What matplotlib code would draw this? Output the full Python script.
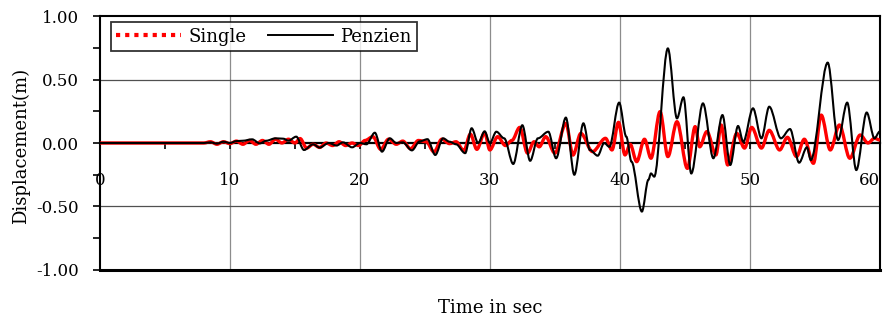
import numpy as np
import matplotlib
matplotlib.use("Agg")
import matplotlib.pyplot as plt
from matplotlib.path import Path
from matplotlib.patches import PathPatch
from matplotlib.lines import Line2D

plt.rcParams['font.family'] = ['DejaVu Serif']
plt.rcParams['axes.unicode_minus'] = False

# turning points of the displacement records (time s, displacement m)
t_single = [0, 8, 8.5, 9, 9.5, 10, 10.5, 11, 11.5, 12, 12.5, 13, 13.5, 14, 14.5, 15,
            15.4, 15.9, 16.4, 16.9, 17.4, 17.9, 18.4, 18.9, 19.4, 19.9, 20.4, 21.0,
            21.6, 22.2, 22.8, 23.3, 23.9, 24.5, 25.1, 25.7, 26.3, 26.9, 27.4, 28.0,
            28.5, 29.0, 29.6, 30.0, 30.6, 31.2, 31.7, 32.3, 32.9, 33.4, 33.8, 34.3,
            35.0, 35.85, 36.4, 37.0, 37.9, 38.9, 39.4, 39.9, 40.4, 40.8, 41.3, 41.9,
            42.4, 43.1, 43.7, 44.4, 45.2, 45.8, 46.15, 46.7, 47.4, 47.8, 48.3, 49.0,
            49.6, 50.15, 50.9, 51.5, 52.3, 52.9, 53.6, 54.2, 54.9, 55.5, 56.2, 56.9,
            57.7, 58.5, 59.1, 59.6, 60]
d_single = [0, 0, 0.01, -0.01, 0.01, -0.005, 0.015, -0.01, 0.02, -0.01, 0.02, -0.01,
            0.03, 0.0, 0.03, 0.0, 0.035, -0.04, -0.01, -0.035, 0.0, -0.02, 0.01, -0.02,
            0.0, -0.02, 0.02, 0.05, -0.05, 0.03, -0.01, 0.015, -0.045, 0.02, 0.01,
            -0.07, 0.03, -0.005, 0.01, -0.06, 0.07, -0.05, 0.08, -0.055, 0.05, -0.02,
            0.02, 0.123, -0.08, 0.01, -0.03, 0.05, -0.08, 0.155, -0.095, 0.076, -0.068,
            0.037, -0.055, 0.163, -0.094, -0.01, -0.147, 0.03, -0.12, 0.247, -0.107,
            0.168, -0.2, 0.129, -0.03, 0.09, -0.094, 0.142, -0.173, 0.076, -0.04,
            0.123, -0.04, 0.1, -0.055, 0.045, -0.107, 0.03, -0.16, 0.22, -0.055,
            0.142, -0.12, 0.063, 0.0, 0.037, 0.024]

t_penzien = [0, 8, 8.5, 9, 9.5, 10, 10.5, 11.0, 11.7, 12.3, 12.8, 13.5, 14.1, 14.5,
             15.1, 15.7, 16.4, 16.9, 17.6, 18.2, 18.7, 19.4, 20.0, 20.5, 21.15, 21.7,
             22.3, 22.8, 23.3, 24.0, 24.6, 25.2, 25.8, 26.4, 26.9, 27.4, 28.1, 28.6,
             29.1, 29.6, 30.0, 30.5, 31.1, 31.8, 32.5, 33.1, 33.7, 34.5, 35.1, 35.85,
             36.5, 37.2, 37.7, 38.3, 38.8, 39.2, 39.95, 40.5, 40.9, 41.7, 42.2, 42.4,
             42.65, 43.7, 44.4, 44.9, 45.5, 46.4, 47.2, 47.9, 48.5, 49.1, 49.5, 50.25,
             50.9, 51.5, 52.4, 53.1, 53.8, 54.4, 54.7, 56.0, 56.8, 57.5, 58.2, 59.0,
             59.6, 60]
d_penzien = [0, 0, 0.005, -0.005, 0.01, 0.0, 0.015, 0.018, 0.029, -0.003, 0.018,
             0.037, 0.034, 0.018, 0.05, -0.055, -0.01, -0.036, 0.0, -0.02, 0.005,
             -0.034, 0.0, -0.01, 0.081, -0.068, 0.037, 0.0, 0.005, -0.058, 0.013, 0.03,
             -0.094, 0.037, 0.01, -0.01, -0.08, 0.116, 0.0, 0.092, 0.0, 0.089, 0.037,
             -0.165, 0.14, -0.14, 0.037, 0.089, -0.12, 0.2, -0.25, 0.155, -0.055,
             -0.1, 0.0, -0.03, 0.318, 0.05, -0.147, -0.54, -0.29, -0.24, -0.265,
             0.745, 0.194, 0.36, -0.24, 0.312, -0.12, 0.22, -0.173, 0.134, 0.01, 0.273,
             0.037, 0.286, 0.037, 0.11, -0.155, -0.034, -0.134, 0.633, 0.024, 0.318,
             -0.213, 0.24, 0.037, 0.09]

y_ticks = [-1.0, -0.5, 0.0, 0.5, 1.0]
x_ticks = [0, 10, 20, 30, 40, 50, 60]


def wave(t, d):
    # smooth curve through the turning points, flat tangent at each one
    verts = [(t[0], d[0])]
    codes = [Path.MOVETO]
    for i in range(len(t) - 1):
        h = (t[i + 1] - t[i]) / 3.0
        verts += [(t[i] + h, d[i]), (t[i + 1] - h, d[i + 1]), (t[i + 1], d[i + 1])]
        codes += [Path.CURVE4] * 3
    return Path(verts, codes)


fig = plt.figure(figsize=(8.85, 3.21), dpi=100)
ax = fig.add_axes([0.113, 0.159, 0.881, 0.791])

ax.set_xlim(0, 60)
ax.set_ylim(-1, 1)

# grid
for x in x_ticks[1:-1]:
    ax.axvline(x, color='#8c8c8c', lw=0.9, zorder=1)
for y in (-0.5, 0.5):
    ax.axhline(y, color='#505050', lw=0.9, zorder=1)

ax.add_patch(PathPatch(wave(t_single, d_single), fill=False, edgecolor='#ff0000',
                       lw=2.4, zorder=3, capstyle='round', joinstyle='round'))
ax.add_patch(PathPatch(wave(t_penzien, d_penzien), fill=False, edgecolor='black',
                       lw=1.5, zorder=4))

# frame: x axis runs through zero, box closed at -1
ax.spines['bottom'].set_position(('data', 0))
ax.spines['bottom'].set_linewidth(1.6)
ax.spines['bottom'].set_zorder(2)
for s in ('top', 'right', 'left'):
    ax.spines[s].set_linewidth(1.5)
ax.axhline(-1, color='black', lw=2.2, clip_on=False, zorder=5)

ax.set_xticks(x_ticks)
ax.set_xticks([5, 15, 25, 35, 45, 55], minor=True)
ax.set_xticklabels([str(x) for x in x_ticks])
ax.tick_params(axis='x', which='both', direction='out', length=4, width=1.2,
               pad=17, labelsize=12)
# last label sits against the right edge of the figure
ax.get_xticklabels()[-1].set_horizontalalignment('right')

ax.set_yticks(y_ticks)
ax.set_yticks([-0.75, -0.25, 0.25, 0.75], minor=True)
ax.set_yticklabels(['%.2f' % y for y in y_ticks])
ax.tick_params(axis='y', which='both', direction='out', length=5, width=1.2,
               pad=10, labelsize=12)

fig.text(0.554, 0.04, 'Time in sec', ha='center', va='center', fontsize=13)
fig.text(0.024, 0.545, 'Displacement(m)', ha='center', va='center',
         rotation=90, fontsize=13)

handles = [Line2D([], [], color='#ff0000', lw=3, ls=(0, (1, 1.2))),
           Line2D([], [], color='black', lw=1.4)]
leg = ax.legend(handles, ['Single', 'Penzien'], loc='upper left', ncol=2,
                bbox_to_anchor=(0.014, 0.975), frameon=True, fancybox=False,
                fontsize=13, handlelength=3.6, columnspacing=1.2,
                borderpad=0.3, handletextpad=0.4, borderaxespad=0)
leg.get_frame().set_edgecolor('black')
leg.get_frame().set_linewidth(1.3)

fig.savefig('out.png', dpi=100)
